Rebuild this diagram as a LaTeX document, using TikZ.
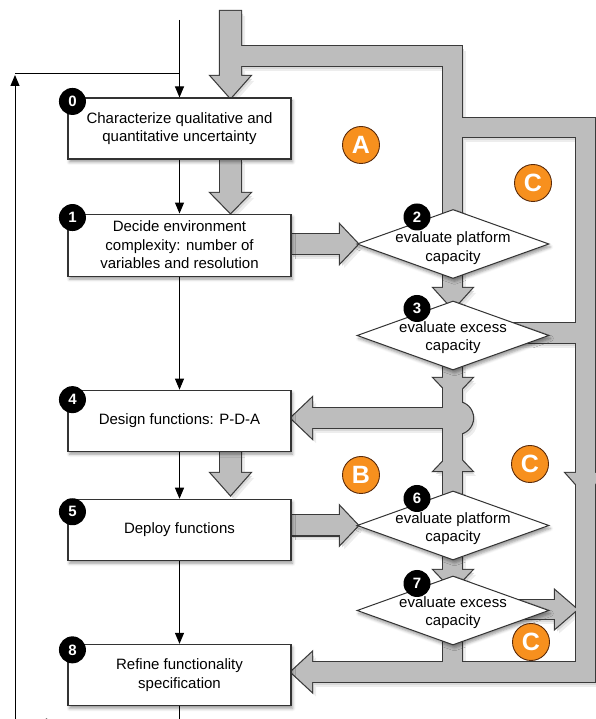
\documentclass[tikz,border=0pt]{standalone}
\usepackage{fontspec}
\setmainfont{Liberation Sans}
\usepackage{tikz}
\usetikzlibrary{shapes.geometric, arrows.meta, positioning, calc, shadows.blur}
\definecolor{bandgray}{HTML}{BDBDBD}
\definecolor{bandline}{HTML}{3A3A3A}
\definecolor{tagorange}{HTML}{F7901E}
\definecolor{tagbrown}{HTML}{5A2A0A}
\tikzstyle{stepnode} = [draw=black!80, rectangle, line width=1.1pt, fill=white, minimum width=223pt, minimum height=61pt, align=center, font=\fontsize{15}{18.5}\selectfont, blur shadow={shadow xshift=1.5pt, shadow yshift=-3pt, shadow blur radius=3pt, shadow opacity=40}]
\tikzstyle{decidenode} = [draw=black!80, diamond, line width=1pt, fill=white, minimum width=192pt, minimum height=69pt, inner sep=0pt, aspect=2.78, blur shadow={shadow xshift=1.5pt, shadow yshift=-3pt, shadow blur radius=3pt, shadow opacity=40}]
\tikzstyle{decidetext} = [align=center, inner sep=0pt, font=\fontsize{15}{18.5}\selectfont]
\tikzstyle{numbadge} = [circle, fill=black, text=white, minimum size=27pt, inner sep=0pt, font=\bfseries\fontsize{15}{15}\selectfont]
\tikzstyle{zonetag} = [circle, fill=tagorange, draw=tagbrown, line width=0.9pt, minimum size=37pt, inner sep=0pt, text=white, font=\bfseries\fontsize{25}{25}\selectfont]
\tikzstyle{arrw} = [line width=1pt, -{Triangle[length=11pt, width=9pt]}]
\tikzstyle{plainline} = [line width=1pt]

% all the wide gray flow bands, drawn once per pass
\newcommand{\graynet}[1]{%
  % entry from the top into step 0
  \path[#1] (220,708) -- (241,708) -- (241,643) -- (250,643) -- (230.5,621) -- (211,643) -- (220,643) -- cycle;
  \path[#1] (230,653) rectangle (462,673);
  \path[#1] (443,490) rectangle (462,673);
  % outer loop on the right
  \path[#1] (452,582) rectangle (595,601);
  \path[#1] (576,37) rectangle (595,601);
  \path[#1] (566,246) -- (605,246) -- (585.5,224) -- cycle;
  \path[#1] (500,376) rectangle (595,396);
  % 2 -> 3
  \path[#1] (443,431) rectangle (462,450);
  \path[#1] (434,431) -- (472,431) -- (453,410) -- cycle;
  % 3 and 6 back to 4
  \path[#1] (443,220) rectangle (462,359);
  \path[#1] (434,341) -- (472,341) -- (453,321) -- cycle;
  \path[#1] (434,248) -- (472,248) -- (453,268) -- cycle;
  \path[#1] (457,301) circle[radius=16];
  \path[#1] (312,291) rectangle (453,311);
  \path[#1] (312,321) -- (312,281) -- (291,301) -- cycle;
  % 1 -> 2 and 5 -> 6
  \path[#1] (291,465) rectangle (340,485);
  \path[#1] (340,494) -- (340,456) -- (358,475) -- cycle;
  \path[#1] (291,183.5) rectangle (340,203.5);
  \path[#1] (340,212.5) -- (340,174.5) -- (358,193.5) -- cycle;
  % 6 -> 7
  \path[#1] (443,149) rectangle (462,165);
  \path[#1] (434,149) -- (472,149) -- (453,129) -- cycle;
  % 7 -> right loop
  \path[#1] (500,100) rectangle (555,119);
  \path[#1] (555,128.5) -- (555,90.5) -- (577,109.5) -- cycle;
  % 7 and loop back to 8
  \path[#1] (443,47) rectangle (462,90);
  \path[#1] (312,37) rectangle (595,57);
  \path[#1] (312,66.5) -- (312,27.5) -- (291,47) -- cycle;
  % 0 -> 1 and 4 -> 5
  \path[#1] (220,526) rectangle (241,560);
  \path[#1] (211,526) -- (250,526) -- (230.5,506) -- cycle;
  \path[#1] (220,246) rectangle (241,271);
  \path[#1] (211,246) -- (250,246) -- (230.5,224) -- cycle;
}

\begin{document}
\begin{tikzpicture}[x=1pt, y=1pt]
    \clip (0,0) rectangle (596,719);

    % Gray bands
    \graynet{fill=black!7, shift={(4,-5)}}
    \graynet{fill=black!15, shift={(2,-3)}}
    \graynet{draw=bandline, line width=2.4pt}
    \graynet{fill=bandgray}

    % Steps
    \node (box0) [stepnode] at (179.5,590.5) {Characterize qualitative and\\quantitative uncertainty};
    \node (box1) [stepnode, minimum height=62pt, below=54pt of box0] {Decide environment\\complexity: number of\\variables and resolution};
    \node (box4) [stepnode, below=113pt of box1] {Design functions: P-D-A};
    \node (box5) [stepnode, below=47pt of box4] {Deploy functions};
    \node (box8) [stepnode, below=83pt of box5] {Refine functionality\\specification};

    % Decisions
    \node (d2) [decidenode] at (453,475) {};
    \node (d3) [decidenode, below=21.5pt of d2] {};
    \node (d6) [decidenode] at (453,193.5) {};
    \node (d7) [decidenode, below=15pt of d6] {};
    \node (t2) [decidetext] at ([yshift=-4pt]d2.center) {evaluate platform\\capacity};
    \node (t3) [decidetext] at ([yshift=-2pt]d3.center) {evaluate excess\\capacity};
    \node (t6) [decidetext] at ([yshift=-3pt]d6.center) {evaluate platform\\capacity};
    \node (t7) [decidetext] at ([yshift=-2pt]d7.center) {evaluate excess\\capacity};

    % Thin flow
    \coordinate (entry) at (179.5,699);
    \coordinate (loopbot) at (36,-4);
    \coordinate (looptop) at (15,644);
    \coordinate (loopcorner) at (15,645);
    \coordinate (loopjoin) at (179.5,645);
    \draw [arrw] (entry) -- (box0);
    \draw [arrw] (box0) -- (box1);
    \draw [arrw] (box1) -- (box4);
    \draw [arrw] (box4) -- (box5);
    \draw [arrw] (box5) -- (box8);
    \draw [arrw] (box8) |- (loopbot);
    \draw [arrw] (loopbot) -| (looptop);
    \draw [plainline] (loopcorner) -- (loopjoin);

    % Numbers
    \node (n0) [numbadge] at ([shift={(5,-4)}]box0.north west) {0};
    \node (n1) [numbadge] at ([shift={(5,-4)}]box1.north west) {1};
    \node (n4) [numbadge] at ([shift={(5,-10)}]box4.north west) {4};
    \node (n5) [numbadge] at ([shift={(5,-13)}]box5.north west) {5};
    \node (n8) [numbadge] at ([shift={(5,-6)}]box8.north west) {8};
    \node (n2) [numbadge] at ([shift={(-36,-8)}]d2.north) {2};
    \node (n3) [numbadge] at ([shift={(-36,-8)}]d3.north) {3};
    \node (n6) [numbadge] at ([shift={(-36,-8)}]d6.north) {6};
    \node (n7) [numbadge] at ([shift={(-36,-8)}]d7.north) {7};

    % Zones
    \node (za) [zonetag] at (361,574) {A};
    \node (zc1) [zonetag] at (533,536) {C};
    \node (zb) [zonetag] at (361,244) {B};
    \node (zc2) [zonetag] at (530,255) {C};
    \node (zc3) [zonetag] at (531,77) {C};
\end{tikzpicture}
\end{document}
